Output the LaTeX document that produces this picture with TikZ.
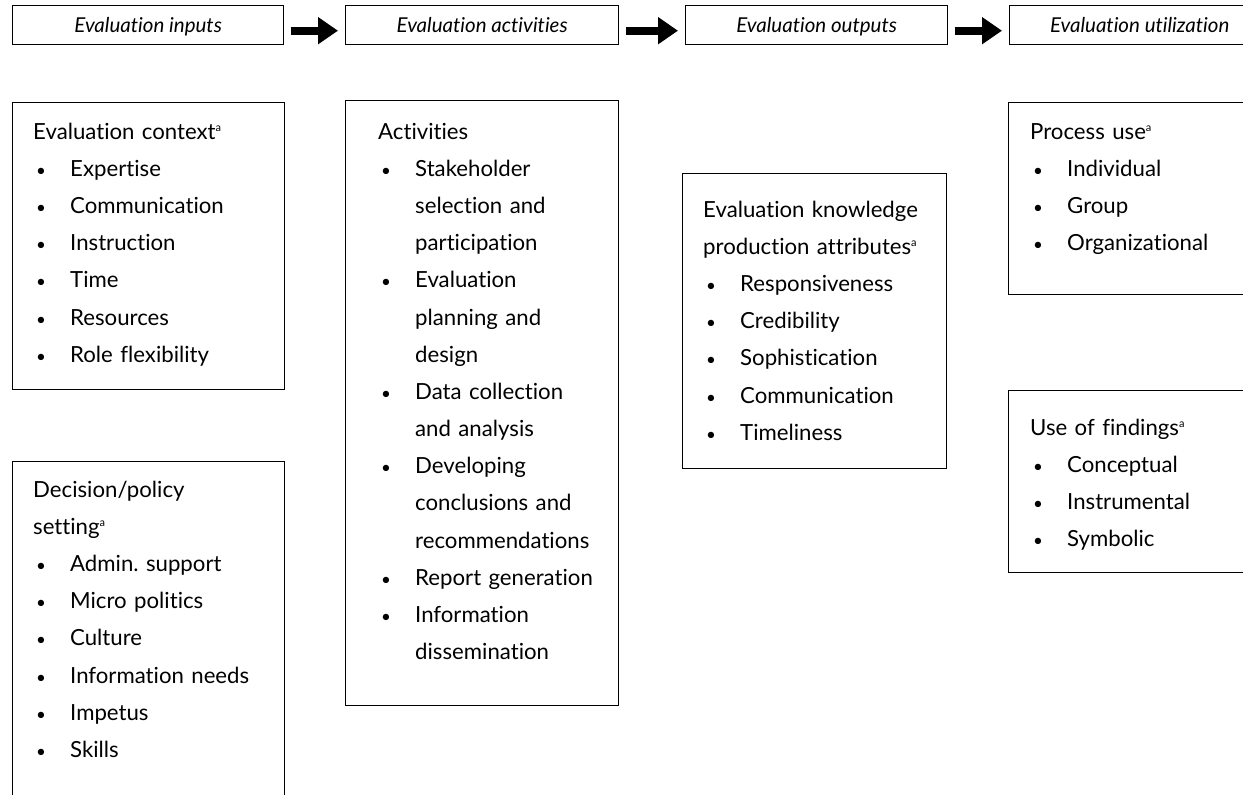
\documentclass[tikz,border=0pt]{standalone}
\usepackage{fontspec}
\setmainfont{Lato}[Ligatures=NoCommon]
\usetikzlibrary{arrows.meta}
\frenchspacing
\newcommand\bul{\makebox[37pt][l]{\hspace{3pt}{\fontsize{17}{17}\selectfont•}}}
\newcommand\ind{\hspace*{37pt}}
\newcommand\mysupa{\raisebox{8pt}{\fontsize{11}{11}\selectfont a}}
\begin{document}
\begin{tikzpicture}[x=1pt,y=-1pt,
  frame/.style={draw,line width=1.4pt,rectangle,anchor=north west,inner sep=0pt},
  head/.style={anchor=base,inner sep=0pt,font=\fontsize{20.5}{24}\selectfont\itshape},
  body/.style={anchor=base west,inner sep=0pt,align=left,text width=300pt,font=\fontsize{22.2}{37.2}\selectfont},
  blockarrow/.style={line width=8pt,-{Triangle[length=20pt,width=26pt]},shorten <=6.5pt,shorten >=7pt}]
\useasboundingbox (0,0) rectangle (1243,795);
\clip (0,0) rectangle (1243,795);
% header boxes
\node[frame,minimum width=271pt,minimum height=39pt] (h1) at (12,5) {};
\node[frame,minimum width=273pt,minimum height=39pt] (h2) at (345,5) {};
\node[frame,minimum width=262pt,minimum height=39pt] (h3) at (685,5) {};
\node[frame,minimum width=260pt,minimum height=39pt] (h4) at (1009,5) {};
\node[head] (h1t) at (h1.center |- 0,32) {Evaluation inputs};
\node[head] (h2t) at (h2.center |- 0,32) {Evaluation activities};
\node[head] (h3t) at (h3.center |- 0,32) {Evaluation outputs};
\node[head] (h4t) at (h4.center |- 0,32) {Evaluation utilization};
\draw[blockarrow] ([yshift=-5.5pt]h1.east) -- ([yshift=-5.5pt]h2.west);
\draw[blockarrow] ([yshift=-5.5pt]h2.east) -- ([yshift=-5.5pt]h3.west);
\draw[blockarrow] ([yshift=-5.5pt]h3.east) -- ([yshift=-5.5pt]h4.west);
% content boxes
\node[frame,minimum width=272pt,minimum height=287pt] (ctx) at (12,102) {};
\node[frame,minimum width=272pt,minimum height=400pt] (dec) at (12,461) {};
\node[frame,minimum width=273pt,minimum height=605pt] (act) at (345,100) {};
\node[frame,minimum width=264pt,minimum height=295pt] (know) at (682,173) {};
\node[frame,minimum width=260pt,minimum height=192pt] (proc) at (1008,102) {};
\node[frame,minimum width=260pt,minimum height=182pt] (use) at (1008,390) {};
% texts
\node[body] (ctxt) at (33,139) {Evaluation context\mysupa\\
\bul Expertise\\ \bul Communication\\ \bul Instruction\\ \bul Time\\ \bul Resources\\ \bul Role flexibility};
\node[body] (dect) at (33,497) {Decision/policy\\ setting\mysupa\\
\bul Admin. support\\ \bul Micro politics\\ \bul Culture\\ \bul Information needs\\ \bul Impetus\\ \bul Skills};
\node[body] (actt) at (378,139) {Activities\\
\bul Stakeholder\\ \ind selection and\\ \ind participation\\
\bul Evaluation\\ \ind planning and\\ \ind design\\
\bul Data collection\\ \ind and analysis\\
\bul Developing\\ \ind conclusions and\\ \ind recommendations\\
\bul Report generation\\
\bul Information\\ \ind dissemination};
\node[body] (knowt) at (703,217) {Evaluation knowledge\\ production attributes\mysupa\\
\bul Responsiveness\\ \bul Credibility\\ \bul Sophistication\\ \bul Communication\\ \bul Timeliness};
\node[body] (proct) at (1030,139) {Process use\mysupa\\
\bul Individual\\ \bul Group\\ \bul Organizational};
\node[body] (uset) at (1030,435) {Use of findings\mysupa\\
\bul Conceptual\\ \bul Instrumental\\ \bul Symbolic};
\end{tikzpicture}
\end{document}
